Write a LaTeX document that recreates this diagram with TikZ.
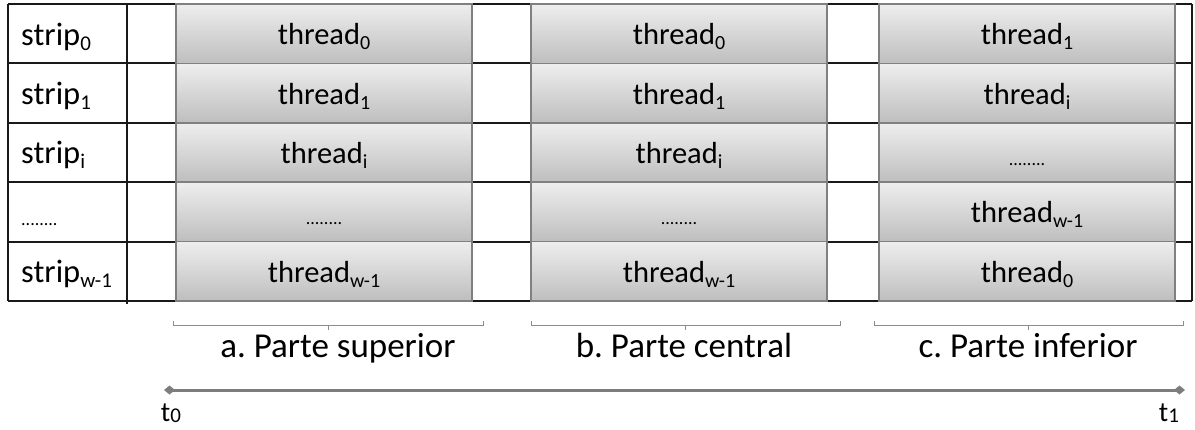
\documentclass[tikz,border=0pt]{standalone}
\usepackage{fontspec}
\setmainfont{Carlito}
\usetikzlibrary{arrows.meta}
\frenchspacing

\definecolor{gridline}{RGB}{25,25,25}
\definecolor{boxedge}{RGB}{128,128,128}
\definecolor{boxtop}{RGB}{238,238,238}
\definecolor{boxbottom}{RGB}{190,190,190}
\definecolor{axisgray}{RGB}{125,125,125}
\definecolor{bracegray}{RGB}{140,140,140}

% small lowered index used in the cell labels
\newcommand{\idx}[1]{\raisebox{-5pt}{\fontsize{20}{20}\selectfont #1}}
\newcommand{\stripidx}[1]{\raisebox{-5pt}{\fontsize{21}{21}\selectfont #1}}
\newcommand{\cellfont}{\fontsize{30.5}{34}\selectfont}
\newcommand{\stripfont}{\fontsize{32.5}{36}\selectfont}
\newcommand{\dotsfont}{\fontsize{18}{18}\selectfont}

\begin{document}
\begin{tikzpicture}[x=1pt,y=-1pt,
  workbox/.style={draw=boxedge, line width=1.5pt, top color=boxtop, bottom color=boxbottom,
    minimum width=296pt, minimum height=59.4pt, inner sep=0pt, outer sep=0pt, anchor=north west},
  celltext/.style={anchor=base, inner sep=0pt, font=\cellfont},
  dottext/.style={anchor=base, inner sep=0pt, font=\dotsfont},
  striptext/.style={anchor=base west, inner sep=0pt, font=\stripfont},
  bracetext/.style={anchor=base, inner sep=0pt, font=\fontsize{35}{38}\selectfont},
  tick/.style={anchor=base, inner sep=0pt, font=\fontsize{28}{30}\selectfont},
  grid/.style={draw=gridline, line width=2pt},
  bracket/.style={draw=bracegray, line width=1pt},
  axis/.style={draw=axisgray, line width=3pt,
    {Diamond[length=11pt,width=9pt]}-{Diamond[length=11pt,width=9pt]}}
]
\useasboundingbox (0,0) rectangle (1195,429);

% table grid
\foreach \y in {4,63.4,122.8,182.2,241.6,301}
  \draw[grid] (8,\y) -- (1192,\y);
\draw[grid] (8,4) -- (8,301);
\draw[grid] (127,4) -- (127,304);
\draw[grid] (1192,4) -- (1192,301);

% shaded thread cells: columns a, b, c
\foreach \c/\x in {a/176,b/531,c/879}
  \foreach \r in {0,...,4}
    \node[workbox] (\c\r) at (\x,{4+59.4*\r}) {};

% strip labels
\node[striptext] (s0) at (21,45) {strip\stripidx{0}};
\node[striptext] (s1) at (21,104.4) {strip\stripidx{1}};
\node[striptext] (s2) at (21,163.8) {strip\stripidx{i}};
\node[anchor=base west, inner sep=0pt, font=\dotsfont] (s3) at (21,225.5) {........};
\node[striptext] (s4) at (21,282.6) {strip\stripidx{w-1}};

% column a
\node[celltext] at ([yshift=-11pt]a0.center) {thread\idx{0}};
\node[celltext] at ([yshift=-11pt]a1.center) {thread\idx{1}};
\node[celltext] at ([yshift=-11pt]a2.center) {thread\idx{i}};
\node[dottext] at ([yshift=-13pt]a3.center) {........};
\node[celltext] at ([yshift=-11pt]a4.center) {thread\idx{w-1}};

% column b
\node[celltext] at ([yshift=-11pt]b0.center) {thread\idx{0}};
\node[celltext] at ([yshift=-11pt]b1.center) {thread\idx{1}};
\node[celltext] at ([yshift=-11pt]b2.center) {thread\idx{i}};
\node[dottext] at ([yshift=-13pt]b3.center) {........};
\node[celltext] at ([yshift=-11pt]b4.center) {thread\idx{w-1}};

% column c
\node[celltext] at ([yshift=-11pt]c0.center) {thread\idx{1}};
\node[celltext] at ([yshift=-11pt]c1.center) {thread\idx{i}};
\node[dottext] at ([yshift=-13pt]c2.center) {........};
\node[celltext] at ([yshift=-11pt]c3.center) {thread\idx{w-1}};
\node[celltext] at ([yshift=-11pt]c4.center) {thread\idx{0}};

% brackets under the three parts
\foreach \l/\r/\m in {173/483/328, 531/840/685, 874/1183/1028}{
  \draw[bracket] (\l,321) -- (\l,325) -- (\r,325) -- (\r,321);
  \draw[bracket] (\m,325) -- (\m,330);
}
\node[bracetext] (pa) at (338,357) {a. Parte superior};
\node[bracetext] (pb) at (684,357) {b. Parte central};
\node[bracetext] (pc) at (1028,357) {c. Parte inferior};

% time axis
\coordinate (tstart) at (164,390);
\coordinate (tend) at (1185,390);
\draw[axis] (tstart) -- (tend);
\node[tick] (t0) at (171,421) {t\raisebox{-1pt}{\fontsize{21}{21}\selectfont 0}};
\node[tick] (t1) at (1169,421) {t\raisebox{-1pt}{\fontsize{21}{21}\selectfont 1}};
\end{tikzpicture}
\end{document}
